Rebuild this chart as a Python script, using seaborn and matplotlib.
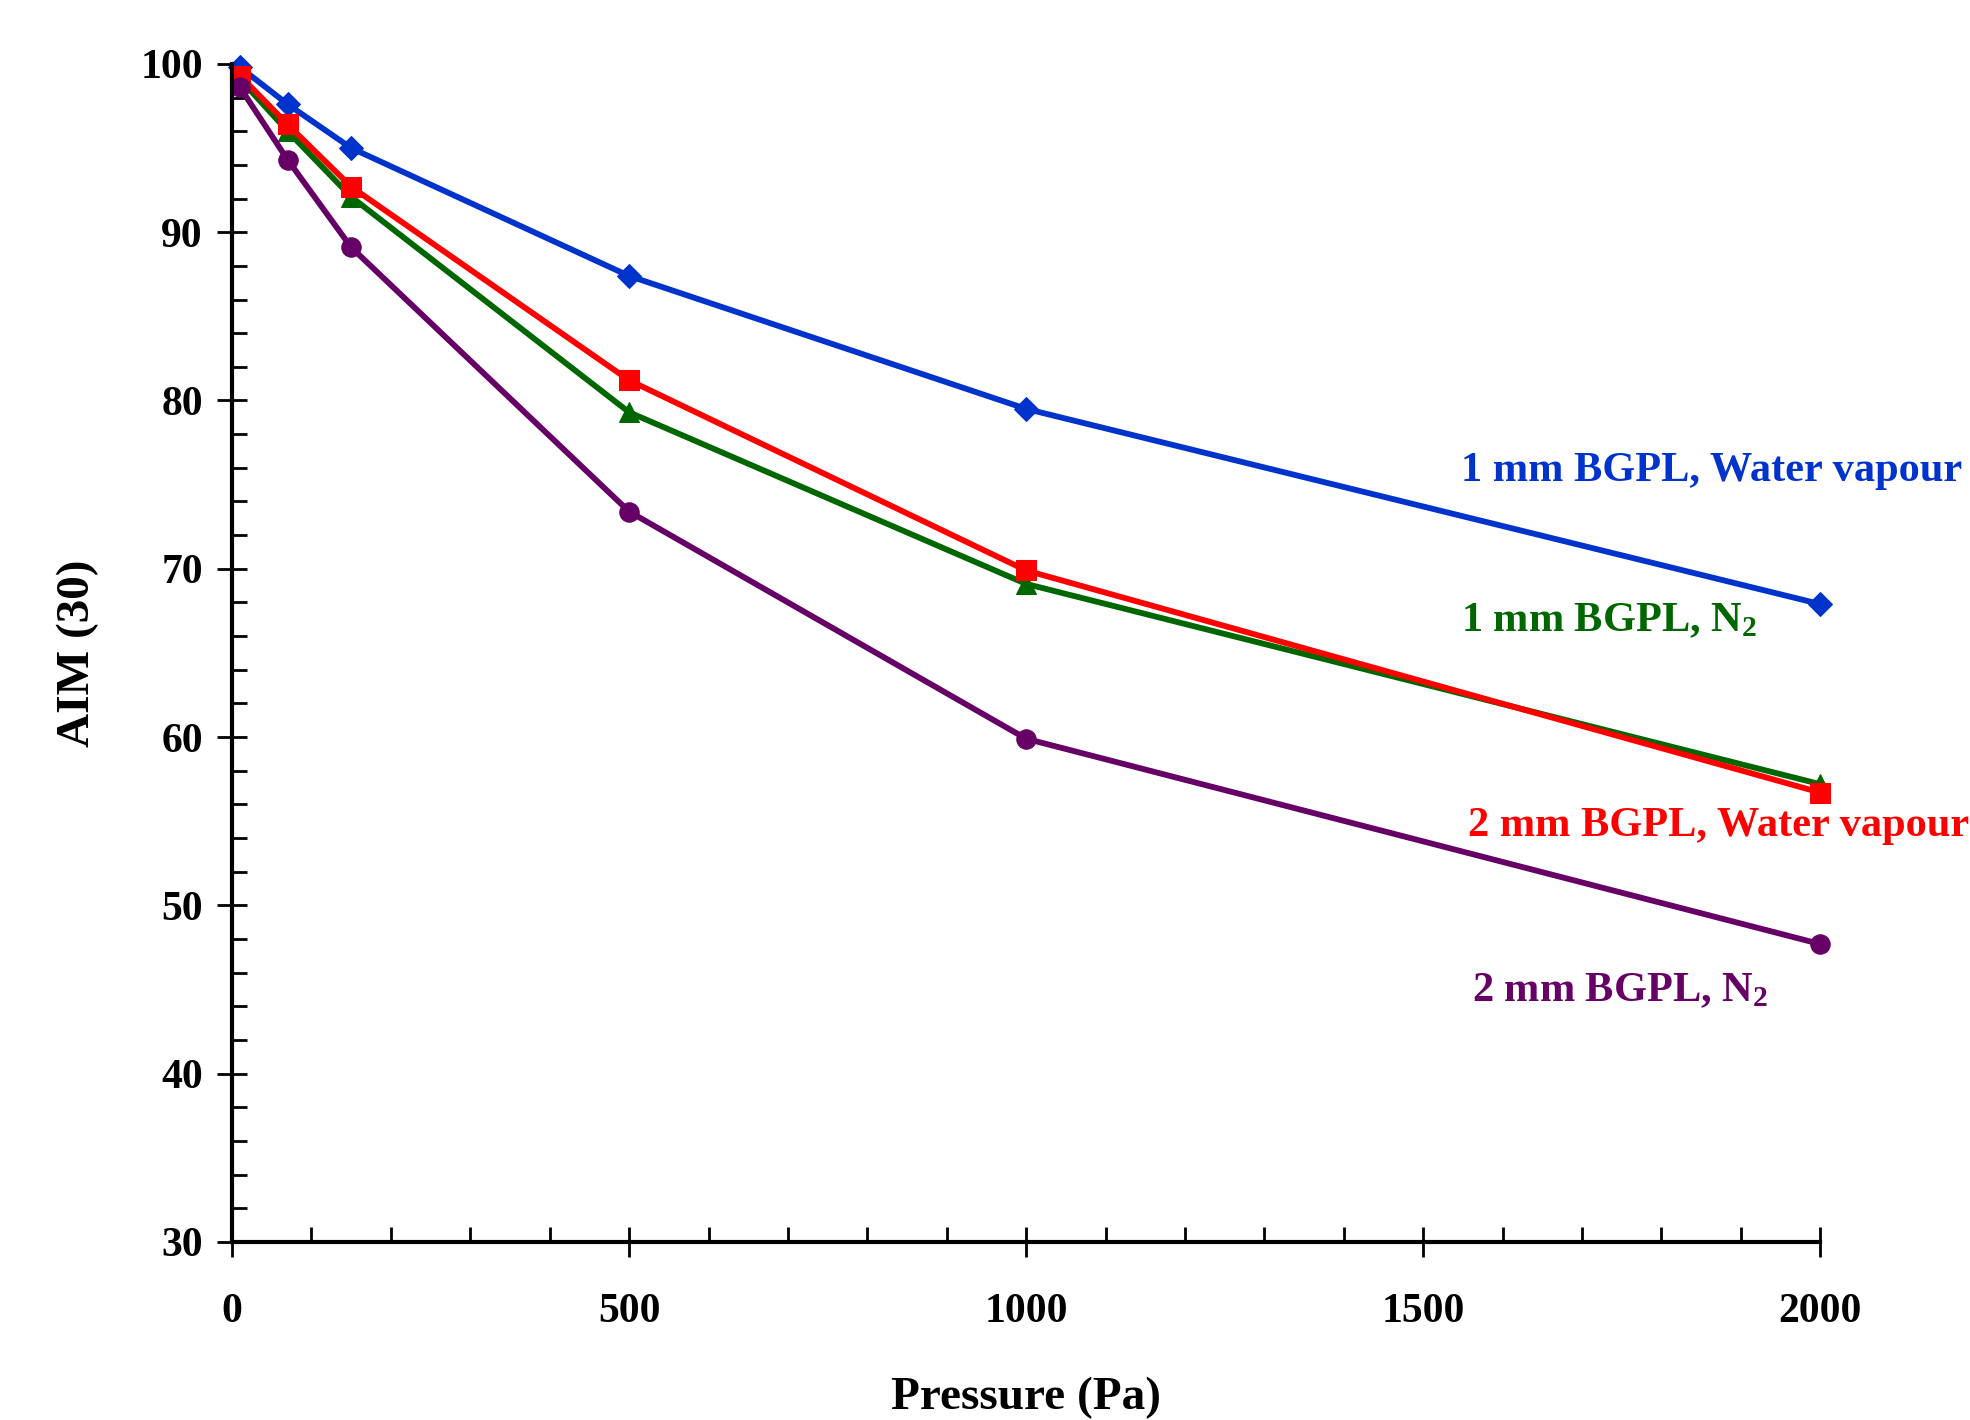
import matplotlib
matplotlib.use('Agg')
import matplotlib.pyplot as plt
import seaborn as sns
import pandas as pd
from matplotlib.ticker import MultipleLocator

# values
pressure = [10, 70, 150, 500, 1000, 2000]
aim_1mm_water = [99.8, 97.6, 95.0, 87.4, 79.5, 67.9]
aim_1mm_n2 = [99.1, 96.0, 92.1, 79.3, 69.1, 57.2]
aim_2mm_water = [99.3, 96.4, 92.7, 81.2, 69.9, 56.7]
aim_2mm_n2 = [98.6, 94.3, 89.1, 73.4, 59.9, 47.7]

series_names = ['1 mm BGPL, Water vapour', '1 mm BGPL, N$_2$',
                '2 mm BGPL, Water vapour', '2 mm BGPL, N$_2$']
series_values = [aim_1mm_water, aim_1mm_n2, aim_2mm_water, aim_2mm_n2]
series_colors = ['#0033CC', '#006600', '#FF0000', '#660066']
series_markers = ['D', '^', 's', 'o']
marker_sizes = [12, 14, 14, 14]
label_x = [1548, 1548, 1556, 1562]
label_y = [75.8, 66.9, 54.7, 44.9]

sns.set_style('white')
plt.rcParams['font.family'] = ['Liberation Serif', 'DejaVu Serif']
plt.rcParams['font.weight'] = 'bold'
plt.rcParams['text.color'] = 'black'
plt.rcParams['axes.labelcolor'] = 'black'
plt.rcParams['xtick.color'] = 'black'
plt.rcParams['ytick.color'] = 'black'
plt.rcParams['mathtext.fontset'] = 'custom'
plt.rcParams['mathtext.rm'] = 'Liberation Serif:bold'
plt.rcParams['mathtext.it'] = 'Liberation Serif:bold'
plt.rcParams['mathtext.bf'] = 'Liberation Serif:bold'

fig = plt.figure(figsize=(19.7, 14.2), dpi=100)
ax = fig.add_axes([0.1178, 0.1254, 0.8062, 0.8296])

for name, vals, col, mk, ms in zip(series_names, series_values, series_colors,
                                   series_markers, marker_sizes):
    df = pd.DataFrame({'Pressure': pressure, 'AIM': vals})
    sns.lineplot(data=df, x='Pressure', y='AIM', ax=ax, color=col, marker=mk,
                 markersize=ms, markeredgecolor=col, linewidth=4.2,
                 legend=False, clip_on=False)

for name, col, tx, ty in zip(series_names, series_colors, label_x, label_y):
    ax.text(tx, ty, name, color=col, fontsize=30.5, fontweight='bold',
            ha='left', va='center', clip_on=False)

ax.set_xlim(0, 2000)
ax.set_ylim(30, 100)
ax.xaxis.set_major_locator(MultipleLocator(500))
ax.xaxis.set_minor_locator(MultipleLocator(100))
ax.yaxis.set_major_locator(MultipleLocator(10))
ax.yaxis.set_minor_locator(MultipleLocator(2))

for side in ['top', 'right']:
    ax.spines[side].set_visible(False)
for side in ['left', 'bottom']:
    ax.spines[side].set_linewidth(3)
    ax.spines[side].set_color('black')

ax.tick_params(axis='both', which='major', direction='inout', length=22,
               width=2, labelsize=30, color='black', labelcolor='black')
ax.tick_params(axis='both', which='minor', direction='in', length=11,
               width=2, color='black')
ax.tick_params(axis='y', which='major', pad=10)
ax.tick_params(axis='x', which='major', pad=26)
ax.tick_params(axis='both', which='both', left=True, bottom=True)
for lab in ax.get_xticklabels() + ax.get_yticklabels():
    lab.set_fontweight('bold')

ax.set_xlabel('Pressure (Pa)', fontsize=34, fontweight='bold', labelpad=33,
              color='black')
ax.set_ylabel('AIM (30)', fontsize=34, fontweight='bold', labelpad=30,
              color='black')
ax.grid(False)

fig.savefig('out.png', dpi=100)
plt.close(fig)
